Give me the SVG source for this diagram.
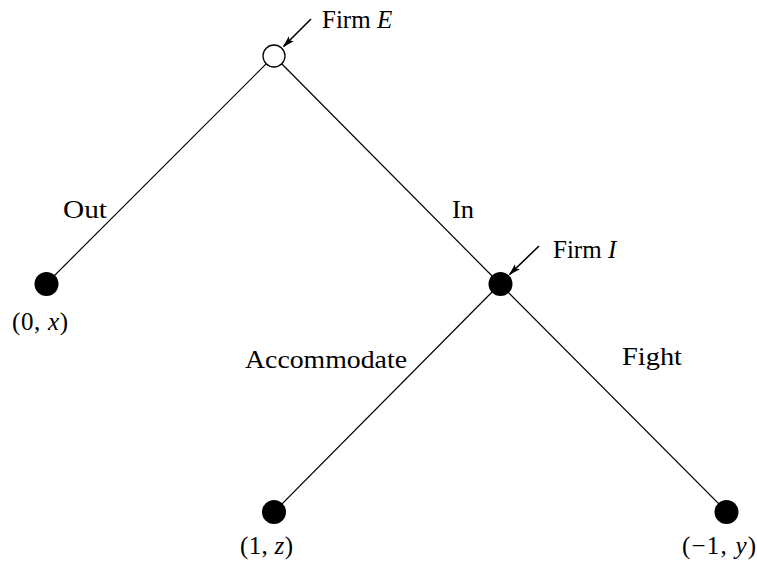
<svg xmlns="http://www.w3.org/2000/svg" width="757" height="562" viewBox="0 0 757 562">
<defs>
<marker id="ah" viewBox="0 0 12 10" refX="11" refY="5" markerWidth="12" markerHeight="10" markerUnits="userSpaceOnUse" orient="auto">
<path d="M0,1.5 L12,5 L0,8.5 L2.5,5 Z" fill="#000"/>
</marker>
</defs>
<style>
text{font-family:"Liberation Serif","Times New Roman",serif;font-size:25px;fill:#000}
.i{font-style:italic}
.edge{stroke:#000;stroke-width:1.2;fill:none}
.ptr{stroke:#000;stroke-width:1.6;fill:none}
.dec{fill:#fff;stroke:#000;stroke-width:1.3}
.term{fill:#000}
</style>
<rect width="757" height="562" fill="#fff"/>
<g id="connectors">
<line class="edge" x1="274" y1="56" x2="46" y2="284"/>
<line class="edge" x1="274" y1="56" x2="500" y2="284"/>
<line class="edge" x1="500" y1="284" x2="274" y2="512"/>
<line class="edge" x1="500" y1="284" x2="727" y2="512"/>
<line class="ptr" x1="311" y1="19" x2="283.5" y2="46.5" marker-end="url(#ah)"/>
<line class="ptr" x1="539" y1="246" x2="509.5" y2="274.5" marker-end="url(#ah)"/>
<text x="63" y="218" textLength="44" lengthAdjust="spacingAndGlyphs">Out</text>
<text x="452" y="218" textLength="22" lengthAdjust="spacingAndGlyphs">In</text>
<text x="245" y="368" textLength="162" lengthAdjust="spacingAndGlyphs">Accommodate</text>
<text x="622" y="365" textLength="60" lengthAdjust="spacingAndGlyphs">Fight</text>
</g>
<g id="firmE">
<circle class="dec" cx="274" cy="56" r="11"/>
<text x="322" y="28">Firm <tspan class="i">E</tspan></text>
</g>
<g id="firmI">
<circle class="term" cx="500.5" cy="284" r="12"/>
<text x="553" y="258">Firm <tspan class="i">I</tspan></text>
</g>
<g id="leafOut">
<circle class="term" cx="46.5" cy="284" r="12"/>
<text x="12" y="330" textLength="56" lengthAdjust="spacing">(0, <tspan class="i">x</tspan>)</text>
</g>
<g id="leafAcc">
<circle class="term" cx="274" cy="512" r="12"/>
<text x="240" y="554" textLength="53" lengthAdjust="spacing">(1, <tspan class="i">z</tspan>)</text>
</g>
<g id="leafFight">
<circle class="term" cx="726.5" cy="512" r="12"/>
<text x="682" y="554" textLength="74" lengthAdjust="spacing">(−1, <tspan class="i">y</tspan>)</text>
</g>
</svg>
